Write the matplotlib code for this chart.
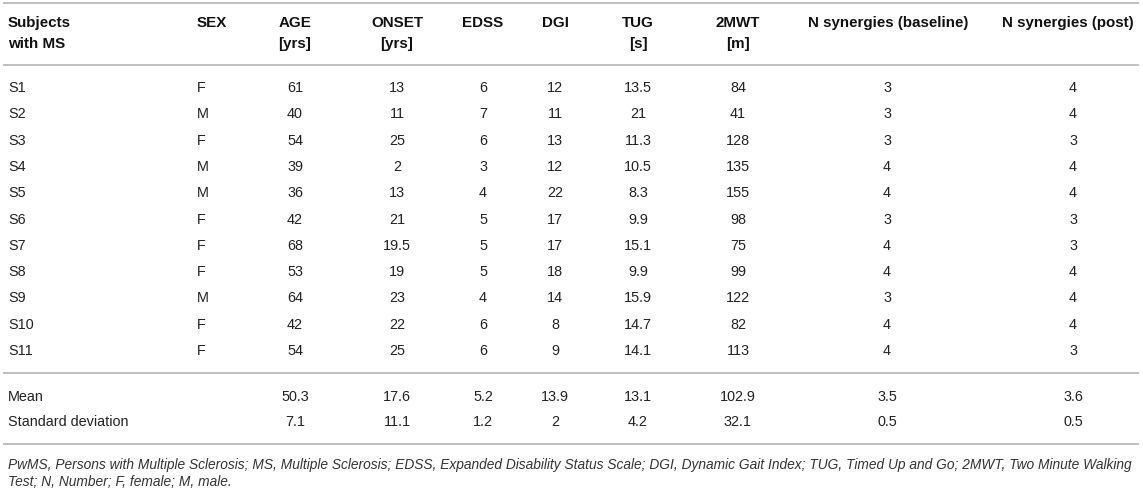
import matplotlib
matplotlib.use("Agg")
import matplotlib.pyplot as plt

plt.rcParams['font.family'] = ['Liberation Sans', 'DejaVu Sans']

# table content
head_top = ["Subjects", "SEX", "AGE", "ONSET", "EDSS", "DGI", "TUG", "2MWT",
            "N synergies (baseline)", "N synergies (post)"]
head_bot = ["with MS", "", "[yrs]", "[yrs]", "", "", "[s]", "[m]", "", ""]

subjects = ["S1", "S2", "S3", "S4", "S5", "S6", "S7", "S8", "S9", "S10", "S11"]
sex = ["F", "M", "F", "M", "M", "F", "F", "F", "M", "F", "F"]
age = ["61", "40", "54", "39", "36", "42", "68", "53", "64", "42", "54"]
onset = ["13", "11", "25", "2", "13", "21", "19.5", "19", "23", "22", "25"]
edss = ["6", "7", "6", "3", "4", "5", "5", "5", "4", "6", "6"]
dgi = ["12", "11", "13", "12", "22", "17", "17", "18", "14", "8", "9"]
tug = ["13.5", "21", "11.3", "10.5", "8.3", "9.9", "15.1", "9.9", "15.9", "14.7", "14.1"]
mwt = ["84", "41", "128", "135", "155", "98", "75", "99", "122", "82", "113"]
syn_base = ["3", "3", "3", "4", "4", "3", "4", "4", "3", "4", "4"]
syn_post = ["4", "4", "3", "4", "4", "3", "3", "4", "4", "4", "3"]

summary_names = ["Mean", "Standard deviation"]
summary_vals = [["50.3", "17.6", "5.2", "13.9", "13.1", "102.9", "3.5", "3.6"],
                ["7.1", "11.1", "1.2", "2", "4.2", "32.1", "0.5", "0.5"]]

footnote = ["PwMS, Persons with Multiple Sclerosis; MS, Multiple Sclerosis; EDSS, Expanded Disability Status Scale; "
            "DGI, Dynamic Gait Index; TUG, Timed Up and Go; 2MWT, Two Minute Walking",
            "Test; N, Number; F, female; M, male."]

# layout (pixels)
col_x = [8, 197, 295, 397, 483, 555, 638, 738, 887, 1073]
head_x = [8, 197, 295, 397, 483, 555, 638, 738, 888, 1068]
col_ha = ["left", "left"] + ["center"] * 8
y_head = [23, 44]
y_rows0, dy = 88, 26.3
y_summary = [397, 422]
y_rules = [3, 65, 373, 444]
y_foot = [465, 482]

txt = "#222222"
rule = "#b4b4b4"

fig = plt.figure(figsize=(11.43, 4.90), dpi=100)
ax = fig.add_axes([0, 0, 1, 1])
ax.set_xlim(0, 1143)
ax.set_ylim(490, 0)
ax.axis("off")

ax.hlines(y_rules, 3, 1139, color=rule, linewidth=1.2)

for i in range(len(head_top)):
    for yy, lab in zip(y_head, [head_top[i], head_bot[i]]):
        if lab:
            ax.text(head_x[i], yy, lab, ha=col_ha[i], va="center", fontsize=10.9,
                    fontweight="bold", color="#111111")

columns = [subjects, sex, age, onset, edss, dgi, tug, mwt, syn_base, syn_post]
for r in range(len(subjects)):
    yy = y_rows0 + r * dy
    for c, col in enumerate(columns):
        ax.text(col_x[c], yy, col[r], ha=col_ha[c], va="center", fontsize=10.4, color=txt)

for name, vals, yy in zip(summary_names, summary_vals, y_summary):
    ax.text(col_x[0], yy, name, ha="left", va="center", fontsize=10.4, color=txt)
    for c, v in enumerate(vals):
        ax.text(col_x[c + 2], yy, v, ha="center", va="center", fontsize=10.4, color=txt)

for line, yy in zip(footnote, y_foot):
    ax.text(col_x[0], yy, line, ha="left", va="center", fontsize=9.95,
            style="italic", color="#333333")

fig.savefig("out.png", dpi=100)
